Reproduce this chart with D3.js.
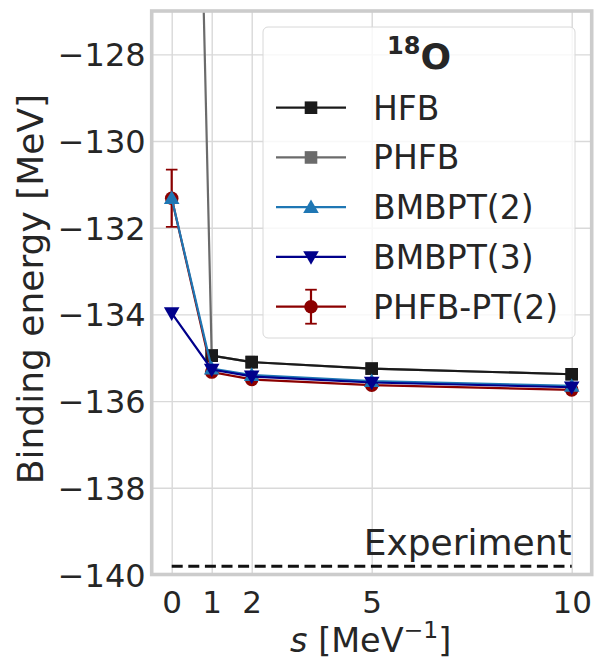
<!DOCTYPE html>
<html>
<head>
<meta charset="utf-8">
<script src="https://cdn.jsdelivr.net/npm/d3@7"></script>
<style>
  html, body { margin: 0; padding: 0; background: #fff; }
  svg { display: block; font-family: "DejaVu Sans", sans-serif; }
</style>
</head>
<body>
<svg id="chart" width="598" height="660"></svg>
<script>
// ---------------- data ----------------
const sValues = [0, 1, 2, 5, 10];
const xTicks = [0, 1, 2, 5, 10];
const yTicks = [-140, -138, -136, -134, -132, -130, -128];

const hfb      = [null, -134.95, -135.10, -135.25, -135.38];
const phfb     = [-95.0, -134.95, -135.10, -135.25, -135.38];
const bmbpt2   = [-131.32, -135.25, -135.40, -135.54, -135.65];
const bmbpt3   = [-133.97, -135.27, -135.43, -135.57, -135.68];
const phfbpt2  = [-131.32, -135.33, -135.50, -135.63, -135.74];
const phfbpt2Err = [0.66, 0.02, 0.02, 0.02, 0.02];
const experiment = -139.81;

const seriesNames = ["HFB", "PHFB", "BMBPT(2)", "BMBPT(3)", "PHFB-PT(2)"];

// ---------------- layout ----------------
const X0 = 151.7, X1 = 591.7, Y0 = 11, Y1 = 574.5;
const x = d3.scaleLinear().domain([-0.5, 10.5]).range([X0, X1]);
const y = d3.scaleLinear().domain([-140, -127]).range([Y1, Y0]);

const svg = d3.select("#chart");
const textColor = "#262626";

// grid
const gGrid = svg.append("g");
gGrid.append("g").attr("transform", `translate(0,${Y1})`)
  .call(d3.axisBottom(x).tickValues(xTicks).tickSize(-(Y1 - Y0)).tickFormat(""))
  .call(g => g.select(".domain").remove())
  .call(g => g.selectAll("line").attr("stroke", "#d9d9d9").attr("stroke-width", 1.4));
gGrid.append("g").attr("transform", `translate(${X0},0)`)
  .call(d3.axisLeft(y).tickValues(yTicks).tickSize(-(X1 - X0)).tickFormat(""))
  .call(g => g.select(".domain").remove())
  .call(g => g.selectAll("line").attr("stroke", "#d9d9d9").attr("stroke-width", 1.4));

// clip
svg.append("defs").append("clipPath").attr("id", "clip")
  .append("rect").attr("x", X0).attr("y", Y0).attr("width", X1 - X0).attr("height", Y1 - Y0);
const plot = svg.append("g").attr("clip-path", "url(#clip)");

// experiment dashed line
plot.append("line")
  .attr("x1", x(0)).attr("x2", x(10))
  .attr("y1", y(experiment)).attr("y2", y(experiment))
  .attr("stroke", "#111").attr("stroke-width", 3)
  .attr("stroke-dasharray", "11,5.6");

svg.append("text")
  .attr("x", x(10)).attr("y", 555)
  .attr("text-anchor", "end")
  .attr("font-size", 36).attr("fill", textColor)
  .text("Experiment");

// marker paths
function markerPath(type, cx, cy) {
  if (type === "square") {
    const h = 6.3;
    return `M${cx-h},${cy-h}H${cx+h}V${cy+h}H${cx-h}Z`;
  }
  if (type === "tri-up") {
    return `M${cx},${cy-7.8}L${cx+7.8},${cy+5.8}L${cx-7.8},${cy+5.8}Z`;
  }
  if (type === "tri-down") {
    return `M${cx},${cy+7.8}L${cx+7.8},${cy-5.8}L${cx-7.8},${cy-5.8}Z`;
  }
  return null;
}

const series = [
  { name: "PHFB", values: phfb, color: "#6b6b6b", marker: "square" },
  { name: "HFB", values: hfb, color: "#1a1a1a", marker: "square" },
  { name: "PHFB-PT(2)", values: phfbpt2, color: "#8b0000", marker: "circle", err: phfbpt2Err },
  { name: "BMBPT(2)", values: bmbpt2, color: "#1f77b4", marker: "tri-up" },
  { name: "BMBPT(3)", values: bmbpt3, color: "#00008b", marker: "tri-down" }
];

const line = d3.line()
  .defined(d => d.v !== null)
  .x(d => x(d.s)).y(d => y(d.v));

series.forEach(sr => {
  const pts = sValues.map((s, i) => ({ s, v: sr.values[i], e: sr.err ? sr.err[i] : 0 }));
  const g = plot.append("g");
  g.append("path").datum(pts)
    .attr("d", line).attr("fill", "none")
    .attr("stroke", sr.color).attr("stroke-width", 2.2);
  const valid = pts.filter(d => d.v !== null);
  if (sr.err) {
    valid.forEach(d => {
      g.append("line").attr("x1", x(d.s)).attr("x2", x(d.s))
        .attr("y1", y(d.v + d.e)).attr("y2", y(d.v - d.e))
        .attr("stroke", sr.color).attr("stroke-width", 2.2);
      [d.v + d.e, d.v - d.e].forEach(v => {
        g.append("line").attr("x1", x(d.s) - 5.8).attr("x2", x(d.s) + 5.8)
          .attr("y1", y(v)).attr("y2", y(v))
          .attr("stroke", sr.color).attr("stroke-width", 1.8);
      });
    });
  }
  valid.forEach(d => {
    if (sr.marker === "circle") {
      g.append("circle").attr("cx", x(d.s)).attr("cy", y(d.v)).attr("r", 6.8)
        .attr("fill", sr.color);
    } else {
      g.append("path").attr("d", markerPath(sr.marker, x(d.s), y(d.v)))
        .attr("fill", sr.color);
    }
  });
});

// frame (spines)
svg.append("rect")
  .attr("x", X0).attr("y", Y0).attr("width", X1 - X0).attr("height", Y1 - Y0)
  .attr("fill", "none").attr("stroke", "#cccccc").attr("stroke-width", 3.6);

// tick labels
svg.append("g").attr("transform", `translate(${X0},0)`)
  .call(d3.axisLeft(y).tickValues(yTicks).tickSize(0).tickPadding(6)
    .tickFormat(d => d3.format("d")(d).replace("-", "\u2212")))
  .call(g => g.select(".domain").remove())
  .call(g => g.selectAll("text").attr("font-size", 32).attr("fill", textColor)
    .attr("font-family", "DejaVu Sans").attr("x", -6).attr("dy", "0.36em"));

svg.append("g").attr("transform", `translate(0,${Y1})`)
  .call(d3.axisBottom(x).tickValues(xTicks).tickSize(0).tickFormat(d3.format("d")))
  .call(g => g.select(".domain").remove())
  .call(g => g.selectAll("text").attr("font-size", 31).attr("fill", textColor)
    .attr("font-family", "DejaVu Sans").attr("y", 38.5).attr("dy", null));

// axis labels
svg.append("text")
  .attr("transform", `translate(43,${289}) rotate(-90)`)
  .attr("text-anchor", "middle").attr("font-size", 36).attr("fill", textColor)
  .text("Binding energy [MeV]");

const xl = svg.append("text")
  .attr("x", (X0 + X1) / 2 - 1).attr("y", 652)
  .attr("text-anchor", "middle").attr("font-size", 33.5).attr("fill", textColor);
xl.append("tspan").attr("font-style", "italic").text("s");
xl.append("tspan").text(" [MeV");
xl.append("tspan").attr("font-size", 23.5).attr("dy", -14).text("\u22121");
xl.append("tspan").attr("dy", 14).text("]");

// legend
const lg = svg.append("g");
lg.append("rect").attr("x", 263).attr("y", 27).attr("width", 312).attr("height", 311)
  .attr("rx", 5).attr("fill", "#ffffff").attr("fill-opacity", 0.8)
  .attr("stroke", "#d8d8d8").attr("stroke-width", 1);

const title = lg.append("text").attr("x", 387).attr("y", 69)
  .attr("font-weight", "bold").attr("fill", textColor);
title.append("tspan").attr("font-size", 24).attr("dy", -15).text("18");
title.append("tspan").attr("font-size", 36).attr("dy", 15).text("O");

const legendOrder = ["HFB", "PHFB", "BMBPT(2)", "BMBPT(3)", "PHFB-PT(2)"];
const rowY = d3.scaleLinear().domain([0, 4]).range([107.7, 306.7]);
legendOrder.forEach((name, i) => {
  const sr = series.find(s => s.name === name);
  const yy = rowY(i);
  const cx = 311;
  lg.append("line").attr("x1", 276).attr("x2", 346).attr("y1", yy).attr("y2", yy)
    .attr("stroke", sr.color).attr("stroke-width", 2.2);
  if (sr.err) {
    lg.append("line").attr("x1", cx).attr("x2", cx).attr("y1", yy - 17).attr("y2", yy + 17)
      .attr("stroke", sr.color).attr("stroke-width", 2.2);
    [yy - 17, yy + 17].forEach(v => {
      lg.append("line").attr("x1", cx - 5.8).attr("x2", cx + 5.8).attr("y1", v).attr("y2", v)
        .attr("stroke", sr.color).attr("stroke-width", 1.8);
    });
    lg.append("circle").attr("cx", cx).attr("cy", yy).attr("r", 6.8).attr("fill", sr.color);
  } else {
    lg.append("path").attr("d", markerPath(sr.marker, cx, yy)).attr("fill", sr.color);
  }
  lg.append("text").attr("x", 373).attr("y", yy).attr("dy", "0.36em")
    .attr("font-size", 33).attr("fill", textColor).text(name);
});
</script>
</body>
</html>
